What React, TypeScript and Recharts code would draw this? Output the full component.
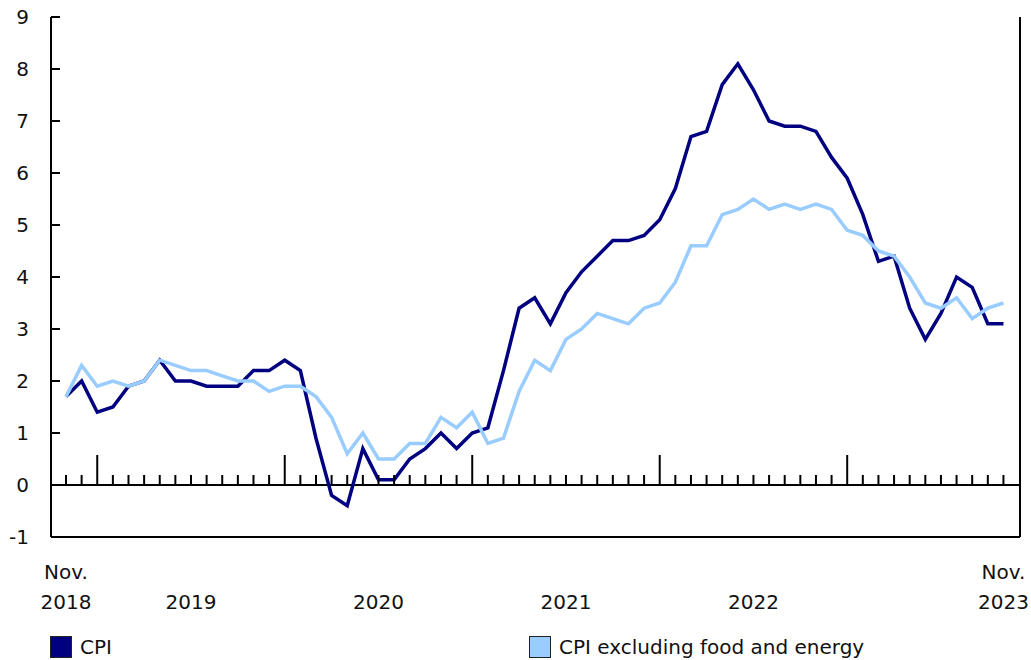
import React from "react"
import { LineChart, Line, XAxis, YAxis, ReferenceLine } from "recharts"

const startYear = 2018
const startMonth = 10 // November, zero-based

// CPI, 12-month % change
const cpi = [
  1.7, 2.0,
  1.4, 1.5, 1.9, 2.0, 2.4, 2.0, 2.0, 1.9, 1.9, 1.9, 2.2, 2.2,
  2.4, 2.2, 0.9, -0.2, -0.4, 0.7, 0.1, 0.1, 0.5, 0.7, 1.0, 0.7,
  1.0, 1.1, 2.2, 3.4, 3.6, 3.1, 3.7, 4.1, 4.4, 4.7, 4.7, 4.8,
  5.1, 5.7, 6.7, 6.8, 7.7, 8.1, 7.6, 7.0, 6.9, 6.9, 6.8, 6.3,
  5.9, 5.2, 4.3, 4.4, 3.4, 2.8, 3.3, 4.0, 3.8, 3.1, 3.1,
]

// CPI excluding food and energy
const core = [
  1.7, 2.3,
  1.9, 2.0, 1.9, 2.0, 2.4, 2.3, 2.2, 2.2, 2.1, 2.0, 2.0, 1.8,
  1.9, 1.9, 1.7, 1.3, 0.6, 1.0, 0.5, 0.5, 0.8, 0.8, 1.3, 1.1,
  1.4, 0.8, 0.9, 1.8, 2.4, 2.2, 2.8, 3.0, 3.3, 3.2, 3.1, 3.4,
  3.5, 3.9, 4.6, 4.6, 5.2, 5.3, 5.5, 5.3, 5.4, 5.3, 5.4, 5.3,
  4.9, 4.8, 4.5, 4.4, 4.0, 3.5, 3.4, 3.6, 3.2, 3.4, 3.5,
]

const yTicks = [-1, 0, 1, 2, 3, 4, 5, 6, 7, 8, 9]

// tick labels under the axis, keyed by month index
const xLabels: Record<number, [string, string]> = {
  0: ["Nov.", "2018"],
  8: ["", "2019"],
  20: ["", "2020"],
  32: ["", "2021"],
  44: ["", "2022"],
  60: ["Nov.", "2023"],
}

const data = cpi.map((v, i) => ({
  idx: i,
  month: (startMonth + i) % 12,
  year: startYear + Math.floor((startMonth + i) / 12),
  cpi: v,
  core: core[i],
}))

const W = 1031
const H = 660
const LEFT = 51
const RIGHT = 11
const TOP = 17
const BOTTOM = 123
const Y_MIN = -1
const Y_MAX = 9
const plotBottom = H - BOTTOM
const zeroY = plotBottom - ((0 - Y_MIN) / (Y_MAX - Y_MIN)) * (plotBottom - TOP)

const font = "Verdana, 'DejaVu Sans', sans-serif"
const fontSize = 20
const dark = "#000080"
const light = "#99CCFF"

function XTick(props: any) {
  const { x, payload } = props
  const i = payload.value as number
  const isJan = data[i] && data[i].month === 0
  const lab = xLabels[i]
  return (
    <g>
      <line x1={x} x2={x} y1={zeroY} y2={zeroY - (isJan ? 30 : 10)} stroke="#000" strokeWidth={2} />
      {lab && (
        <text textAnchor="middle" fontSize={fontSize} fontFamily={font} fill="#111">
          <tspan x={x} y={plotBottom + 42}>{lab[0]}</tspan>
          <tspan x={x} y={plotBottom + 72}>{lab[1]}</tspan>
        </text>
      )}
    </g>
  )
}

function YTick(props: any) {
  const { y, payload } = props
  return (
    <g>
      <line x1={LEFT} x2={LEFT + 9} y1={y} y2={y} stroke="#000" strokeWidth={2} />
      <text x={LEFT - 22} y={y} dy="0.36em" textAnchor="end" fontSize={fontSize} fontFamily={font} fill="#111">
        {payload.value}
      </text>
    </g>
  )
}

const legendItems = [
  { label: "CPI", color: dark, left: 50 },
  { label: "CPI excluding food and energy", color: light, left: 529 },
]

export default function App() {
  return (
    <div style={{ position: "absolute", left: 0, top: 0, width: W, height: H, background: "#fff" }}>
      <LineChart width={W} height={H} data={data} margin={{ top: TOP, right: 0, bottom: 0, left: 0 }}>
        <XAxis
          dataKey="idx"
          type="number"
          domain={[-0.96, 61.06]}
          allowDataOverflow
          ticks={data.map((d) => d.idx)}
          interval={0}
          height={BOTTOM}
          axisLine={{ stroke: "#000", strokeWidth: 2 }}
          tickLine={false}
          tick={<XTick />}
        />
        <XAxis xAxisId="top" orientation="top" height={0} axisLine={{ stroke: "#000", strokeWidth: 2 }} tick={false} tickLine={false} />
        <YAxis
          domain={[Y_MIN, Y_MAX]}
          ticks={yTicks}
          interval={0}
          width={LEFT}
          axisLine={{ stroke: "#000", strokeWidth: 2 }}
          tickLine={false}
          tick={<YTick />}
        />
        <YAxis yAxisId="right" orientation="right" width={RIGHT} axisLine={{ stroke: "#000", strokeWidth: 2 }} tick={false} tickLine={false} />
        <ReferenceLine y={0} stroke="#000" strokeWidth={2} />
        <Line type="linear" dataKey="cpi" stroke={dark} strokeWidth={3.5} dot={false} isAnimationActive={false} />
        <Line type="linear" dataKey="core" stroke={light} strokeWidth={3.5} dot={false} isAnimationActive={false} />
      </LineChart>
      {legendItems.map((it) => (
        <div
          key={it.label}
          style={{
            position: "absolute",
            left: it.left,
            top: 636,
            height: 22,
            display: "flex",
            alignItems: "center",
            fontFamily: font,
            fontSize: fontSize,
            color: "#111",
          }}
        >
          <span style={{ width: 20, height: 20, background: it.color, border: "1px solid #222", marginRight: 8, display: "inline-block" }} />
          {it.label}
        </div>
      ))}
    </div>
  )
}
